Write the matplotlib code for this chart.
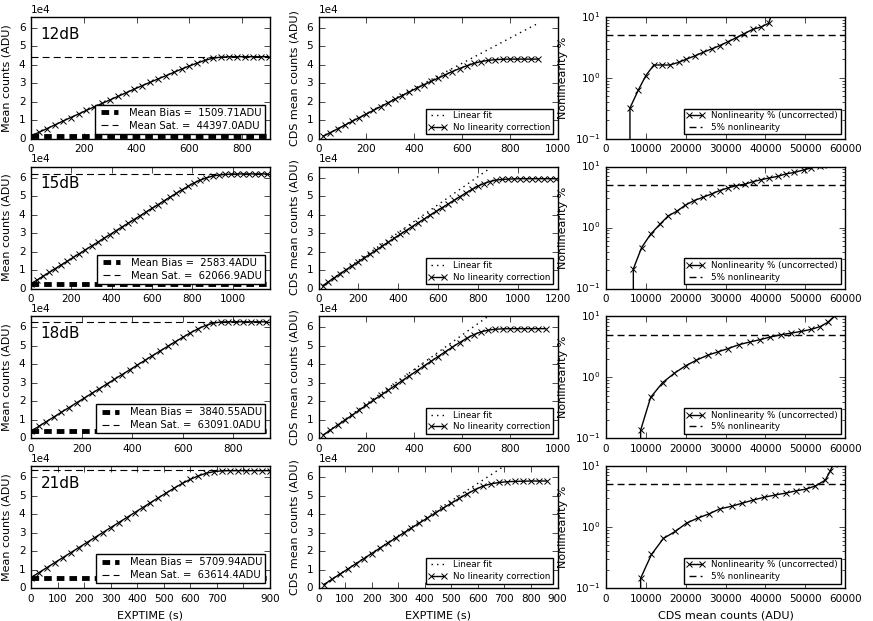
import matplotlib
matplotlib.use("Agg")
import matplotlib.pyplot as plt
import numpy as np

# gain settings
gains = ["12dB", "15dB", "18dB", "21dB"]

bias = [1509.71, 2583.4, 3840.55, 5709.94]
sat = [44397.0, 62066.9, 63091.0, 63614.4]

# mean counts vs exposure time
t_12 = [0, 30, 60, 90, 120, 150, 180, 210, 240, 270, 300, 330, 360, 390, 420, 450,
        480, 510, 540, 570, 600, 630, 660, 690, 720, 750, 780, 810, 840, 870, 900]
counts_12 = [1600, 3500, 5500, 7500, 9500, 11500, 13400, 15400, 17300, 19200, 21100,
             23000, 24900, 26800, 28700, 30500, 32300, 34100, 35900, 37700, 39400,
             41000, 42500, 43600, 44200, 44400, 44400, 44400, 44400, 44400, 44400]

t_15 = [0, 30, 60, 90, 120, 150, 180, 210, 240, 270, 300, 330, 360, 390, 420, 450,
        480, 510, 540, 570, 600, 630, 660, 690, 720, 750, 780, 810, 840, 870, 900,
        930, 960, 990, 1020, 1050, 1080, 1110, 1140, 1170]
counts_15 = [2600, 4600, 6700, 8700, 10800, 12800, 14800, 16900, 18900, 21000, 23000,
             25000, 27100, 29100, 31200, 33200, 35200, 37300, 39300, 41400, 43400,
             45400, 47500, 49500, 51500, 53500, 55400, 57200, 58700, 59900, 60800,
             61400, 61700, 61900, 61950, 62000, 62000, 62000, 62000, 62000]

t_18 = [0, 30, 60, 90, 120, 150, 180, 210, 240, 270, 300, 330, 360, 390, 420, 450,
        480, 510, 540, 570, 600, 630, 660, 690, 720, 750, 780, 810, 840, 870, 900, 930]
counts_18 = [3900, 6400, 9000, 11500, 14100, 16600, 19200, 21700, 24300, 26800, 29400,
             31900, 34500, 37000, 39600, 42100, 44700, 47200, 49700, 52200, 54600,
             57000, 59200, 61000, 62300, 62900, 63000, 63000, 63000, 63000, 63000, 63000]

t_21 = [0, 30, 60, 90, 120, 150, 180, 210, 240, 270, 300, 330, 360, 390, 420, 450,
        480, 510, 540, 570, 600, 630, 660, 690, 720, 750, 780, 810, 840, 870, 900]
counts_21 = [5700, 8400, 11100, 13800, 16500, 19200, 21900, 24600, 27300, 30000, 32700,
             35400, 38100, 40800, 43500, 46200, 48900, 51500, 54100, 56600, 58800,
             60700, 62100, 63000, 63400, 63500, 63500, 63500, 63500, 63500, 63500]

xmax_left = [905, 1185, 945, 900]

# CDS mean counts vs exposure time
cds_t_12 = [20, 50, 80, 110, 140, 170, 200, 230, 260, 290, 320, 350, 380, 410, 440, 470,
            500, 530, 560, 590, 620, 650, 680, 710, 740, 770, 800, 830, 860, 890, 920]
cds_12 = [1400, 3400, 5400, 7400, 9400, 11400, 13400, 15400, 17400, 19400, 21400, 23400,
          25400, 27300, 29200, 31000, 32800, 34600, 36400, 38000, 39500, 40800, 41800,
          42400, 42800, 43000, 43100, 43100, 43100, 43100, 43100]

cds_t_15 = [20, 50, 80, 110, 140, 170, 200, 230, 260, 290, 320, 350, 380, 410, 440, 470,
            500, 530, 560, 590, 620, 650, 680, 710, 740, 770, 800, 830, 860, 890, 920,
            950, 980, 1010, 1040, 1070, 1100, 1130, 1160, 1190]
cds_15 = [1500, 3700, 5900, 8100, 10300, 12400, 14500, 16600, 18700, 20800, 23000, 25100,
          27200, 29300, 31400, 33500, 35600, 37600, 39700, 41700, 43700, 45700, 47700,
          49700, 51700, 53600, 55400, 56800, 57900, 58600, 59000, 59200, 59300, 59400,
          59400, 59400, 59400, 59400, 59400, 59400]

cds_t_18 = [20, 50, 80, 110, 140, 170, 200, 230, 260, 290, 320, 350, 380, 410, 440, 470,
            500, 530, 560, 590, 620, 650, 680, 710, 740, 770, 800, 830, 860, 890, 920, 950]
cds_18 = [1800, 4500, 7200, 9800, 12500, 15200, 17900, 20600, 23200, 25900, 28500, 31200,
          33800, 36400, 39000, 41600, 44200, 46800, 49300, 51800, 54100, 56100, 57600,
          58500, 59000, 59200, 59300, 59300, 59300, 59300, 59300, 59300]

cds_t_21 = [20, 50, 80, 110, 140, 170, 200, 230, 260, 290, 320, 350, 380, 410, 440, 470,
            500, 530, 560, 590, 620, 650, 680, 710, 740, 770, 800, 830, 860]
cds_21 = [1900, 4700, 7500, 10300, 13100, 15900, 18700, 21500, 24300, 27000, 29800, 32500,
          35200, 37900, 40600, 43300, 45900, 48500, 51000, 53300, 55200, 56400, 57100,
          57500, 57700, 57800, 57900, 57900, 57900]

fit_slope = [68.0, 75.6, 93.0, 94.4]
xmax_mid = [1000, 1200, 1000, 900]

# nonlinearity % vs CDS mean counts (first value is below zero)
nl_x_12 = [4000, 6000, 8100, 10000, 12000, 14000, 16000, 18200, 20000, 22300, 24400,
           26500, 28500, 30600, 32600, 34700, 36800, 38900, 40800, 41600]
nl_y_12 = [-0.5, 0.32, 0.63, 1.09, 1.62, 1.62, 1.62, 1.79, 2.0, 2.29, 2.62, 2.97, 3.36,
           3.9, 4.5, 5.3, 6.2, 6.8, 7.8, 11.0]

nl_x_15 = [4800, 6850, 8930, 11200, 13500, 15600, 17700, 19800, 22100, 24400, 26500,
           28500, 30600, 32700, 35000, 36900, 39000, 41000, 43100, 45200, 47300, 49600,
           51500, 53600, 54500]
nl_y_15 = [-0.5, 0.21, 0.47, 0.78, 1.13, 1.55, 1.84, 2.3, 2.77, 3.14, 3.56, 4.03, 4.46,
           4.86, 5.17, 5.65, 6.1, 6.5, 6.9, 7.6, 8.0, 8.8, 9.5, 10.2, 10.6]

nl_x_18 = [6000, 8680, 11200, 14200, 17100, 20000, 22700, 25500, 28000, 30600, 33400,
           36100, 38600, 41200, 43800, 46500, 49000, 51500, 53800, 55700, 57300, 58000]
nl_y_18 = [-0.5, 0.136, 0.47, 0.82, 1.16, 1.55, 1.91, 2.3, 2.6, 2.95, 3.43, 3.79, 4.13,
           4.56, 4.98, 5.3, 5.65, 6.1, 6.8, 8.0, 10.0, 12.0]

nl_x_21 = [6000, 8680, 11400, 14400, 17400, 20200, 23000, 25900, 28500, 31500, 34100,
           36900, 39600, 42300, 45100, 47700, 50100, 52500, 55000, 56300, 57100]
nl_y_21 = [-0.5, 0.145, 0.356, 0.65, 0.85, 1.16, 1.4, 1.65, 1.98, 2.19, 2.45, 2.77, 3.07,
           3.34, 3.6, 3.93, 4.18, 4.7, 5.85, 8.3, 11.0]

left_data = [(t_12, counts_12), (t_15, counts_15), (t_18, counts_18), (t_21, counts_21)]
mid_data = [(cds_t_12, cds_12), (cds_t_15, cds_15), (cds_t_18, cds_18), (cds_t_21, cds_21)]
nl_data = [(nl_x_12, nl_y_12), (nl_x_15, nl_y_15), (nl_x_18, nl_y_18), (nl_x_21, nl_y_21)]

plt.style.use("classic")
plt.rcParams["font.family"] = "DejaVu Sans"
plt.rcParams["font.size"] = 7.5
plt.rcParams["axes.labelsize"] = 8
plt.rcParams["xtick.labelsize"] = 7.5
plt.rcParams["ytick.labelsize"] = 7.5
plt.rcParams["legend.fontsize"] = 6.3

fig, axes = plt.subplots(4, 3, figsize=(8.73, 6.21), dpi=100)
fig.patch.set_facecolor("white")
plt.subplots_adjust(left=0.0355, right=0.968, bottom=0.053, top=0.973,
                    wspace=0.203, hspace=0.227)

mk = dict(marker="x", ms=5, mew=0.7, lw=1, color="k")
thin_dash = (5, 3)

for i in range(4):
    # left column: raw mean counts
    ax = axes[i, 0]
    t, c = left_data[i]
    ax.plot(t, c, label="_nolegend_", **mk)
    ax.axhline(bias[i], color="k", ls="--", lw=3.5, dashes=(5.5, 3.6),
               label="Mean Bias =  %sADU" % bias[i])
    ax.axhline(sat[i], color="k", ls="--", lw=0.8, dashes=thin_dash,
               label="Mean Sat. =  %sADU" % sat[i])
    ax.set_xlim(0, xmax_left[i])
    ax.set_ylim(0, 66000)
    ax.set_yticks(np.arange(0, 60001, 10000))
    ax.ticklabel_format(axis="y", style="sci", scilimits=(0, 0))
    ax.set_ylabel("Mean counts (ADU)")
    ax.text(0.04, 0.82, gains[i], transform=ax.transAxes, fontsize=11)
    ax.legend(loc="lower right", handlelength=2.3, borderpad=0.3, labelspacing=0.3,
              fontsize=7.2)
    if i == 3:
        ax.set_xticks(np.arange(0, 901, 100))
        ax.set_xticklabels(["0", "100", "200", "300", "400", "500", "600", "700", "", "900"])
        ax.set_xlabel("EXPTIME (s)")
    else:
        ax.set_xticks(np.arange(0, xmax_left[i], 200))

    # middle column: CDS counts and linear fit
    ax = axes[i, 1]
    t, c = mid_data[i]
    t = np.array(t)
    ax.plot(t, fit_slope[i] * t, "k:", lw=1, label="Linear fit")
    ax.plot(t, c, label="No linearity correction", **mk)
    ax.set_xlim(0, xmax_mid[i])
    ax.set_ylim(0, 66000)
    ax.set_yticks(np.arange(0, 60001, 10000))
    ax.ticklabel_format(axis="y", style="sci", scilimits=(0, 0))
    ax.set_ylabel("CDS mean counts (ADU)")
    ax.legend(loc="lower right", borderpad=0.3, labelspacing=0.3)
    if i == 3:
        ax.set_xticks(np.arange(0, 901, 100))
        ax.set_xlabel("EXPTIME (s)")
    else:
        ax.set_xticks(np.arange(0, xmax_mid[i] + 1, 200))

    # right column: nonlinearity
    ax = axes[i, 2]
    x, y = nl_data[i]
    ax.plot(x, y, label="Nonlinearity % (uncorrected)", **mk)
    ax.axhline(5, color="k", ls="--", lw=1, dashes=thin_dash, label="5% nonlinearity")
    ax.set_yscale("log")
    ax.set_ylim(0.1, 10)
    ax.set_xlim(0, 60000)
    ax.set_xticks(np.arange(0, 60001, 10000))
    ax.set_ylabel("Nonlinearity %")
    ax.legend(loc="lower right", borderpad=0.3, labelspacing=0.3)
    if i == 3:
        ax.set_xlabel("CDS mean counts (ADU)")

fig.savefig("out.png", dpi=100, facecolor="white")
